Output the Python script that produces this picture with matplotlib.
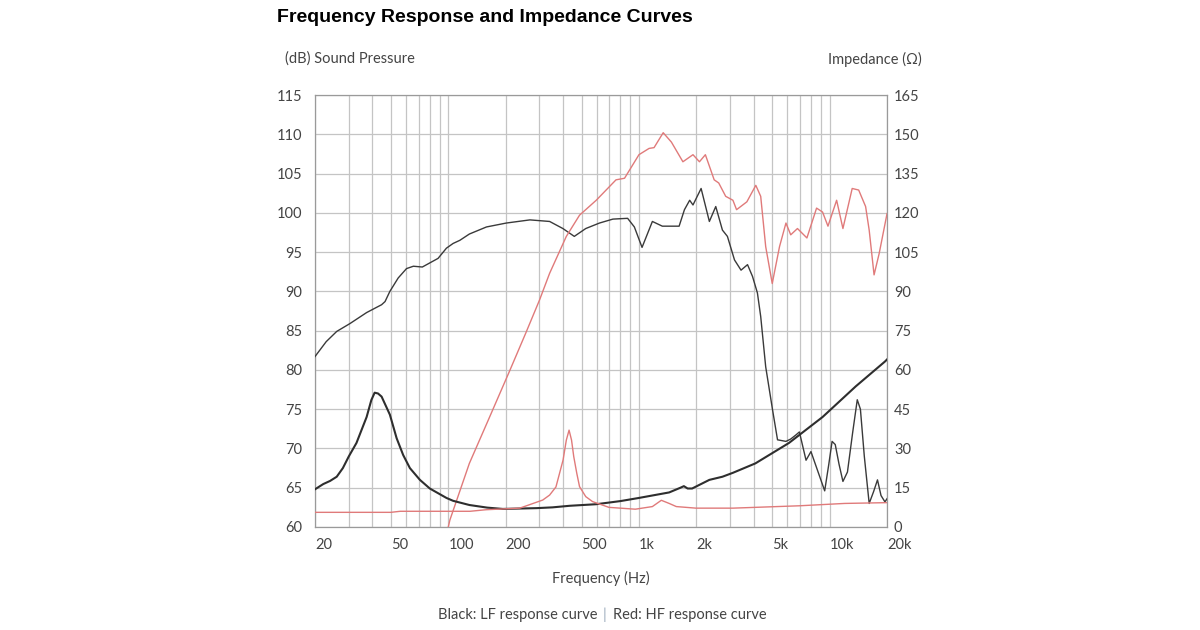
import matplotlib.pyplot as plt
from matplotlib.ticker import FixedLocator, NullFormatter

# LF (black) sound pressure, dB
lf_spl_f = [20, 22.9, 26, 30.5, 37.3, 44.7, 46.6, 49.4, 54.6, 60.4, 65.6, 73.1, 88.4, 97.8, 106, 115, 129,
            158.6, 201.7, 268, 340, 399, 458, 526, 621, 730, 872, 946, 1038, 1176, 1326, 1624, 1732, 1845,
            1920, 2118, 2340, 2528, 2740, 2910, 3170, 3430, 3710, 3940, 4180, 4350, 4620, 5020, 5330,
            5900, 6250, 6640, 6940, 7520, 7980, 9420, 9900, 10300, 10700, 11200, 11740, 12400, 13200,
            13960, 14500, 15200, 16120, 17000, 17820, 18600, 19500, 20000]
lf_spl_db = [81.7, 83.6, 84.9, 85.9, 87.3, 88.3, 88.7, 90.0, 91.7, 92.9, 93.2, 93.1, 94.2, 95.5, 96.1, 96.5,
             97.3, 98.2, 98.7, 99.1, 98.9, 98.0, 97.0, 98.0, 98.7, 99.2, 99.3, 98.2, 95.6, 98.9, 98.3, 98.3,
             100.4, 101.6, 101.0, 103.1, 98.9, 100.8, 97.8, 97.0, 94.0, 92.7, 93.4, 91.9, 89.8, 86.8, 80.4,
             74.9, 71.1, 70.9, 71.2, 71.7, 72.1, 68.5, 69.6, 64.6, 68.0, 70.9, 70.5, 68.0, 65.8, 67.0, 72.0,
             76.2, 75.0, 69.0, 63.0, 64.5, 66.0, 64.0, 63.2, 63.6]

# LF (black) impedance, ohm
lf_imp_f = [20, 22.1, 24, 26, 28, 30.1, 33, 37.3, 39.5, 41.1, 42.8, 44.7, 49.4, 53.6, 58, 62.9, 71, 80,
            97.8, 106, 129, 160, 193, 290, 352, 433, 597, 800, 1000, 1440, 1650, 1720, 1800, 1900, 2340,
            2740, 3110, 4080, 6120, 9180, 13700, 19500, 20000]
lf_imp_ohm = [14.4, 16.4, 17.6, 19.2, 22.5, 27.0, 32.1, 42.0, 48.5, 51.3, 51.0, 49.8, 42.9, 33.9, 27.5, 22.5,
              18.0, 14.7, 11.1, 10.0, 8.4, 7.4, 6.9, 7.2, 7.5, 8.1, 8.7, 9.9, 11.1, 13.2, 15.0, 15.6, 14.7,
              14.7, 18.0, 19.2, 20.7, 24.3, 32.1, 42.0, 53.7, 63.2, 64.0]

# HF (red) sound pressure, dB
hf_spl_f = [100, 102, 129, 162, 210, 255, 301, 340, 416, 488, 597, 758, 840, 1000, 1130, 1200, 1340, 1480,
            1700, 1920, 2076, 2230, 2480, 2620, 2850, 3110, 3250, 3680, 4100, 4350, 4620, 5000, 5460,
            5900, 6250, 6780, 7600, 8540, 9180, 9800, 10880, 11740, 13130, 14200, 15440, 16120, 17100,
            18180, 20000]
hf_spl_db = [60.0, 60.9, 68.1, 73.6, 79.9, 84.7, 88.9, 92.3, 97.0, 99.7, 101.6, 104.2, 104.4, 107.4, 108.2,
             108.3, 110.2, 109.0, 106.5, 107.4, 106.5, 107.4, 104.2, 103.8, 102.1, 101.6, 100.4, 101.4,
             103.5, 102.1, 95.7, 91.0, 95.7, 98.7, 97.2, 98.0, 96.8, 100.6, 100.1, 98.3, 101.6, 98.0,
             103.1, 102.9, 100.8, 97.8, 92.1, 94.8, 99.9]

# HF (red) impedance, ohm
hf_imp_f = [20, 50, 56, 130, 158, 237, 313, 340, 367, 400, 416, 430, 443, 455, 472, 488, 526, 571, 696, 957,
            1176, 1310, 1440, 1570, 1990, 3110, 6940, 12000, 20000]
hf_imp_ohm = [5.6, 5.6, 6.0, 6.0, 6.6, 7.2, 10.3, 12.2, 15.3, 25.6, 33.2, 37.0, 33.2, 26.9, 20.5, 15.4, 11.6,
              9.7, 7.5, 6.8, 7.8, 10.2, 9.0, 7.8, 7.2, 7.2, 8.1, 9.0, 9.3]

x_ticks = [20, 50, 100, 200, 500, 1000, 2000, 5000, 10000, 20000]
x_labels = ['20', '50', '100', '200', '500', '1k', '2k', '5k', '10k', '20k']
x_minor = [30, 40, 60, 70, 80, 90, 300, 400, 600, 700, 800, 900, 3000, 4000, 6000, 7000, 8000, 9000]
spl_ticks = list(range(60, 116, 5))
imp_ticks = list(range(0, 166, 15))

FONT = 'Lato'
FS = 10.5
txt = '#444444'
dark = '#3a3a3a'
red = '#e07a7a'
grid = '#c4c4c4'

fig = plt.figure(figsize=(12, 6.3), dpi=100)
ax = fig.add_axes([0.2625, 0.1635, 0.4767, 0.6857])
ax.set_xscale('log')
ax.set_xlim(20, 20000)
ax.set_ylim(60, 115)
ax.set_xticks(x_ticks)
ax.set_xticklabels(x_labels, ha='left', fontfamily=FONT, fontsize=FS, color=txt)
ax.xaxis.set_minor_locator(FixedLocator(x_minor))
ax.xaxis.set_minor_formatter(NullFormatter())
ax.set_yticks(spl_ticks)
ax.set_yticklabels([str(v) for v in spl_ticks], fontfamily=FONT, fontsize=FS, color=txt)
ax.tick_params(axis='both', which='both', length=0)
ax.tick_params(axis='y', pad=9)
ax.tick_params(axis='x', pad=8)
ax.grid(True, which='both', color=grid, linewidth=0.9)
for s in ax.spines.values():
    s.set_color('#9a9a9a')
    s.set_linewidth(0.9)

ax.plot(lf_spl_f, lf_spl_db, color=dark, linewidth=1.0, zorder=3)
ax.plot(hf_spl_f, hf_spl_db, color=red, linewidth=1.0, zorder=3)

ax2 = ax.twinx()
ax2.set_ylim(0, 165)
ax2.set_yticks(imp_ticks)
ax2.set_yticklabels([str(v) for v in imp_ticks], fontfamily=FONT, fontsize=FS, color=txt)
ax2.tick_params(axis='y', length=0, pad=5)
for s in ax2.spines.values():
    s.set_visible(False)
ax2.plot(lf_imp_f, lf_imp_ohm, color='#2e2e2e', linewidth=1.5, zorder=3)
ax2.plot(hf_imp_f, hf_imp_ohm, color=red, linewidth=1.0, zorder=3)

fig.text(277 / 1200, 1 - 17 / 630, 'Frequency Response and Impedance Curves', fontfamily='Liberation Sans',
         fontweight='bold', fontsize=14, color='black', ha='left', va='center')
fig.text(285 / 1200, 1 - 59 / 630, '(dB) Sound Pressure', fontfamily=FONT, fontsize=FS, color=txt,
         ha='left', va='center')
fig.text(922 / 1200, 1 - 59 / 630, 'Impedance (\u03a9)', fontfamily=FONT, fontsize=FS, color=txt,
         ha='right', va='center')
fig.text(601 / 1200, 1 - 578 / 630, 'Frequency (Hz)', fontfamily=FONT, fontsize=FS, color=txt,
         ha='center', va='center')
fig.text(597 / 1200, 1 - 615 / 630, 'Black: LF response curve', fontfamily=FONT, fontsize=FS, color=txt,
         ha='right', va='center')
fig.text(604 / 1200, 1 - 615 / 630, '|', fontfamily=FONT, fontsize=FS, color='#9aaabb',
         ha='center', va='center')
fig.text(613 / 1200, 1 - 615 / 630, 'Red: HF response curve', fontfamily=FONT, fontsize=FS, color=txt,
         ha='left', va='center')

fig.savefig('out.png', dpi=100, facecolor='white')
